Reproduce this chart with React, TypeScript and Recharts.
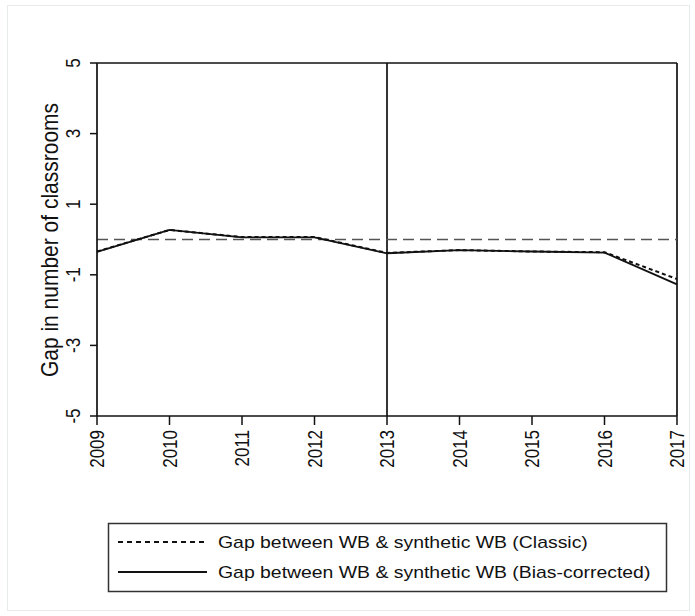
import React from 'react';
import {
  LineChart, Line, XAxis, YAxis, ReferenceLine,
} from 'recharts';

// gap series, one value per year
const years = [2009, 2010, 2011, 2012, 2013, 2014, 2015, 2016, 2017];
const classicGap = [-0.34, 0.27, 0.07, 0.07, -0.38, -0.3, -0.34, -0.36, -1.12];
const biasCorrectedGap = [-0.35, 0.27, 0.06, 0.06, -0.39, -0.3, -0.34, -0.37, -1.27];
const yTicks = [-5, -3, -1, 1, 3, 5];

const seriesLabels = [
  'Gap between WB & synthetic WB (Classic)',
  'Gap between WB & synthetic WB (Bias-corrected)',
];

const FONT = '"Liberation Sans", Arial, sans-serif';
// glyphs are drawn slightly wider than tall
const STRETCH = 1.17;

const data = years.map((year, i) => ({
  year,
  classic: classicGap[i],
  bias: biasCorrectedGap[i],
}));

const XTick = ({ x, y, payload }: any) => (
  <text
    transform={`translate(${x + 7},${y + 3}) rotate(-90) scale(1,${STRETCH})`}
    textAnchor="end"
    fontSize={17}
    fontFamily={FONT}
    fill="#111"
  >
    {payload.value}
  </text>
);

const YTick = ({ x, y, payload }: any) => (
  <text
    transform={`translate(${x - 8},${y}) rotate(-90) scale(1,${STRETCH})`}
    textAnchor="middle"
    fontSize={17}
    fontFamily={FONT}
    fill="#111"
  >
    {payload.value}
  </text>
);

function LegendBox() {
  return (
    <svg
      width={695}
      height={616}
      style={{ position: 'absolute', left: 0, top: 0, pointerEvents: 'none' }}
    >
      <rect x={108.5} y={523.5} width={558} height={68} fill="none" stroke="#333" strokeWidth={1.5} />
      <line x1={118} y1={542} x2={207} y2={542} stroke="#111" strokeWidth={1.8} strokeDasharray="5 4" />
      <line x1={118} y1={572} x2={207} y2={572} stroke="#111" strokeWidth={1.8} />
      {seriesLabels.map((label, i) => (
        <text
          key={label}
          transform={`translate(218,${548 + i * 30}) scale(${STRETCH},1)`}
          fontSize={16.6}
          fontFamily={FONT}
          fill="#111"
        >
          {label}
        </text>
      ))}
    </svg>
  );
}

export default function App() {
  return (
    <div style={{ position: 'absolute', left: 0, top: 0, width: 695, height: 616, background: '#fff' }}>
      <div
        style={{
          position: 'absolute', left: 7, top: 5, width: 683, height: 606,
          border: '1px solid #e8ebec', boxSizing: 'border-box',
        }}
      />
      <LineChart
        width={695}
        height={616}
        data={data}
        margin={{ top: 63, right: 18, left: 0, bottom: 0 }}
      >
        <XAxis
          dataKey="year"
          type="number"
          domain={[2009, 2017]}
          ticks={years}
          interval={0}
          height={200}
          tickSize={9}
          tick={<XTick />}
          axisLine={{ stroke: '#111', strokeWidth: 1.7 }}
          tickLine={{ stroke: '#111', strokeWidth: 1.5 }}
        />
        <YAxis
          type="number"
          domain={[-5, 5]}
          ticks={yTicks}
          interval={0}
          width={97}
          tickSize={7}
          tick={<YTick />}
          axisLine={{ stroke: '#111', strokeWidth: 1.7 }}
          tickLine={{ stroke: '#111', strokeWidth: 1.5 }}
          label={{
            content: () => (
              <text
                transform={`translate(58,240) rotate(-90) scale(1,${STRETCH})`}
                textAnchor="middle"
                fontSize={21}
                fontFamily={FONT}
                fill="#111"
              >
                Gap in number of classrooms
              </text>
            ),
          }}
        />
        <ReferenceLine y={5} stroke="#111" strokeWidth={1.7} />
        <ReferenceLine x={2017} stroke="#111" strokeWidth={1.7} />
        <ReferenceLine x={2013} stroke="#111" strokeWidth={1.7} />
        <ReferenceLine y={0} stroke="#555" strokeWidth={1.6} strokeDasharray="11 6" />
        <Line
          dataKey="classic"
          stroke="#111"
          strokeWidth={2}
          strokeDasharray="4 3"
          dot={false}
          isAnimationActive={false}
        />
        <Line
          dataKey="bias"
          stroke="#111"
          strokeWidth={1.8}
          dot={false}
          isAnimationActive={false}
        />
      </LineChart>
      <LegendBox />
    </div>
  );
}
